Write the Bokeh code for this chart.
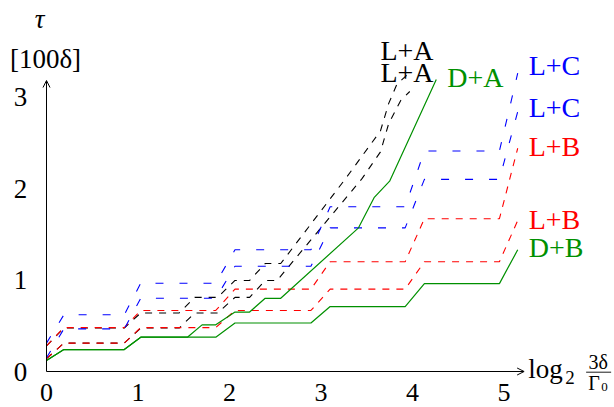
from bokeh.plotting import figure
from bokeh.models import Range1d, Arrow, OpenHead
from bokeh.core.properties import value
from bokeh.embed import file_html
from bokeh.resources import INLINE

# ---------------- data ----------------
x_ticks = [0, 1, 2, 3, 4, 5]
y_ticks = [0, 1, 2, 3]
x_tick_labels = ["0", "1", "2", "3", "4", "5"]
y_tick_labels = ["0", "1", "2", "3"]

step_x = [0, 0.19, 0.85, 1.03, 1.85, 2.06, 2.89, 3.10, 3.92, 4.13, 4.95, 5.15]

lc_upper_y = [0.31, 0.62, 0.62, 0.965, 0.965, 1.33, 1.33, 1.80, 1.80, 2.41, 2.41, 3.26]
lc_lower_y = [0.15, 0.466, 0.466, 0.80, 0.80, 1.15, 1.15, 1.57, 1.57, 2.10, 2.10, 2.84]

lb_upper_y = [0.28, 0.48, 0.48, 0.667, 0.667, 0.90, 0.90, 1.20, 1.20, 1.67, 1.67, 2.44]
lb_lower_y = [0.14, 0.31, 0.31, 0.48, 0.48, 0.667, 0.667, 0.90, 0.90, 1.20, 1.20, 1.65]

db_y = [0.12, 0.24, 0.24, 0.375, 0.375, 0.53, 0.53, 0.71, 0.71, 0.96, 0.96, 1.33]

da_x = [0, 0.19, 0.85, 1.03, 1.54, 1.70, 1.85, 2.06, 2.22, 2.39, 2.56, 3.41, 3.58, 3.75, 4.26]
da_y = [0.12, 0.24, 0.24, 0.375, 0.375, 0.51, 0.51, 0.65, 0.65, 0.80, 0.80, 1.57, 1.90, 2.08, 3.19]

la_upper_x = [0, 0.19, 0.85, 1.03, 1.45, 1.62, 1.87, 2.06, 2.22, 2.39, 2.56, 3.27, 3.65, 3.74, 3.83, 3.94]
la_upper_y = [0.28, 0.475, 0.475, 0.64, 0.64, 0.81, 0.81, 0.995, 0.995, 1.18, 1.18, 2.11, 2.63, 2.93, 3.14, 3.24]

la_lower_x = [0, 0.19, 0.85, 1.03, 1.45, 1.62, 1.87, 2.06, 2.22, 2.39, 2.52, 3.45, 3.65, 3.74, 3.87, 3.97]
la_lower_y = [0.14, 0.31, 0.31, 0.475, 0.475, 0.64, 0.64, 0.81, 0.81, 0.995, 0.995, 2.11, 2.40, 2.71, 2.96, 3.06]

x_axis_end = 5.22
y_axis_end = 3.18

# ---------------- layout / style ----------------
W, H = 614, 407
ORX, ORY = 46, 371          # pixel position of the origin
PX = 91.5                   # pixels per data unit
FONT = value("'Liberation Serif', 'DejaVu Serif', serif")
BLUE, RED, GREEN, BLACK = "#0000ff", "#ff0000", "#009000", "#000000"

p = figure(width=W, height=H,
           x_range=Range1d(-ORX / PX, (W - ORX) / PX),
           y_range=Range1d(-(H - ORY) / PX, ORY / PX),
           min_border=0, toolbar_location=None, output_backend="svg",
           x_axis_location=None, y_axis_location=None)
p.xgrid.visible = False
p.ygrid.visible = False
p.outline_line_color = None
p.background_fill_color = "white"
p.border_fill_color = "white"

# series
p.line(la_upper_x, la_upper_y, line_color=BLACK, line_width=1.1, line_dash="7 7")
p.line(la_lower_x, la_lower_y, line_color=BLACK, line_width=1.1, line_dash="7 7")
p.line(step_x, lb_upper_y, line_color=RED, line_width=1.1, line_dash="7 7")
p.line(step_x, lb_lower_y, line_color=RED, line_width=1.1, line_dash="7 7")
p.line(step_x, lc_upper_y, line_color=BLUE, line_width=1.1, line_dash="8 16")
p.line(step_x, lc_lower_y, line_color=BLUE, line_width=1.1, line_dash="8 16")
p.line(da_x, da_y, line_color=GREEN, line_width=1.2)
p.line(step_x, db_y, line_color=GREEN, line_width=1.2)

# axes with arrows
p.add_layout(Arrow(end=OpenHead(size=7, line_width=1, line_color=BLACK),
                   x_start=0, y_start=0, x_end=x_axis_end, y_end=0,
                   line_width=1, line_color=BLACK))
p.add_layout(Arrow(end=OpenHead(size=7, line_width=1, line_color=BLACK),
                   x_start=0, y_start=0, x_end=0, y_end=y_axis_end,
                   line_width=1, line_color=BLACK))

def txt(x, y, s, size, dx=0, dy=0, align="center", color=BLACK, style="normal"):
    p.text(x=x, y=y, text=s, text_font=FONT, text_font_size=size,
           text_font_style=style, text_align=align, text_baseline="middle",
           x_offset=dx, y_offset=dy, text_color=color)

# tick labels
txt(x_ticks, [0] * len(x_ticks), x_tick_labels, "26px", dy=20.5)
txt([0] * len(y_ticks), y_ticks, y_tick_labels, "27px", dx=-26)

# y axis label
txt([0], [y_axis_end], ["τ"], "27px", dx=-7, dy=-62, style="italic")
txt([0], [y_axis_end], ["[100δ]"], "27px", dx=-1, dy=-22)

# x axis label: log_2 (3δ / Γ_0)
txt([x_axis_end], [0], ["log"], "27px", dx=4, dy=-3, align="left")
txt([x_axis_end], [0], ["2"], "19px", dx=41, dy=5.5, align="left")
txt([x_axis_end], [0], ["3δ"], "20px", dx=74, dy=-10)
p.segment(x0=[x_axis_end + 62 / PX], y0=[-0.7 / PX], x1=[x_axis_end + 87 / PX],
          y1=[-0.7 / PX], line_color=BLACK, line_width=0.9)
txt([x_axis_end], [0], ["Γ"], "20px", dx=64, dy=11.5, align="left")
txt([x_axis_end], [0], ["0"], "13px", dx=77, dy=15, align="left")

# series labels (anchored at series end points)
labels = [
    ("L+A", la_upper_x[-1], la_upper_y[-1], BLACK, "center", 0, -25),
    ("L+A", la_upper_x[-1], la_upper_y[-1], BLACK, "center", 0, -3),
    ("D+A", da_x[-1], da_y[-1], GREEN, "left", 11, -2),
    ("L+C", step_x[-1], lc_upper_y[-1], BLUE, "left", 11, -8),
    ("L+C", step_x[-1], lc_lower_y[-1], BLUE, "left", 11, -4),
    ("L+B", step_x[-1], lb_upper_y[-1], RED, "left", 11, -2),
    ("L+B", step_x[-1], lb_lower_y[-1], RED, "left", 11, -1),
    ("D+B", step_x[-1], db_y[-1], GREEN, "left", 11, -2),
]
for s, lx, ly, col, align, dx, dy in labels:
    txt([lx], [ly], [s], "28px", dx=dx, dy=dy, align=align, color=col)

open("out.html", "w").write(file_html(p, INLINE))
